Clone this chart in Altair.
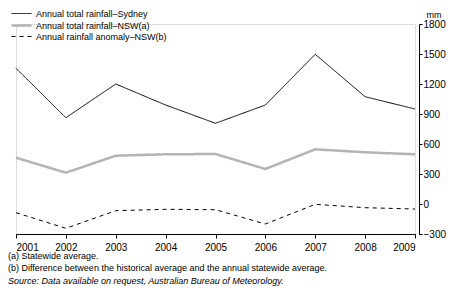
import altair as alt
import pandas as pd

years = [2001, 2002, 2003, 2004, 2005, 2006, 2007, 2008, 2009]
sydney = [1357, 863, 1200, 990, 807, 990, 1497, 1073, 950]
nsw = [463, 313, 483, 497, 500, 350, 547, 517, 497]
anomaly = [-87, -243, -67, -53, -57, -200, -3, -37, -50]
series_names = ["Annual total rainfall\u2013Sydney", "Annual total rainfall\u2013NSW(a)", "Annual rainfall anomaly\u2013NSW(b)"]
y_ticks = [-300, 0, 300, 600, 900, 1200, 1500, 1800]
notes = ["(a) Statewide average.", "(b) Difference between the historical average and the annual statewide average."]
source = "Source: Data available on request, Australian Bureau of Meteorology."

rows = []
for name, vals in zip(series_names, [sydney, nsw, anomaly]):
    for yr, v in zip(years, vals):
        rows.append({"year": yr, "value": v, "series": name})
df = pd.DataFrame(rows)

FONT = "Liberation Sans"

lines = alt.Chart(df).mark_line().encode(
    x=alt.X("year:Q", scale=alt.Scale(domain=[2001, 2009], nice=False, zero=False),
            axis=alt.Axis(values=years, format="d", title=None, tickSize=4, labelPadding=4,
                          grid=False, domainColor="black", tickColor="black", labelColor="black",
                          labelFontSize=10, labelFont=FONT)),
    y=alt.Y("value:Q", scale=alt.Scale(domain=[-300, 1800], nice=False, zero=False),
            axis=alt.Axis(orient="right", values=y_ticks, format="d", title="mm", titleAngle=0,
                          titleAlign="left", titleBaseline="alphabetic", titleX=7, titleY=-7,
                          titleFont=FONT, titleFontSize=9, titleFontWeight="normal", titleColor="black",
                          offset=4, tickSize=3, labelPadding=1, grid=False,
                          domainColor="black", tickColor="black", labelColor="black",
                          labelFontSize=10, labelFont=FONT)),
    color=alt.Color("series:N", scale=alt.Scale(domain=series_names, range=["black", "#b4b4b4", "black"]),
                    legend=alt.Legend(title=None, orient="none", legendX=-1, legendY=-16,
                                      symbolType="M-2,0L2,0", symbolSize=100, labelFont=FONT,
                                      labelFontSize=9, labelColor="black", rowPadding=0,
                                      labelOffset=8, symbolStrokeWidth=1.2)),
    strokeDash=alt.StrokeDash("series:N", scale=alt.Scale(domain=series_names, range=[[1, 0], [1, 0], [4, 4]])),
    strokeWidth=alt.StrokeWidth("series:N", scale=alt.Scale(type="ordinal", domain=series_names, range=[1, 2.5, 1]),
                                legend=None),
)

def note(text, y, italic=False):
    return alt.Chart(alt.Data(values=[{}])).mark_text(
        align="left", baseline="middle", font=FONT, fontSize=9, color="black",
        fontStyle="italic" if italic else "normal"
    ).encode(x=alt.value(-8), y=alt.value(y), text=alt.value(text))

chart = alt.layer(
    lines,
    note(notes[0], 232),
    note(notes[1], 244),
    note(source, 257, italic=True),
).properties(
    width=399, height=210,
    autosize=alt.AutoSizeParams(type="none"),
    padding={"left": 8, "top": 16, "right": 31, "bottom": 60},
).configure_view(stroke=None).configure(background="white")

chart.save("out.html", embed_options={"renderer": "svg", "actions": False})
